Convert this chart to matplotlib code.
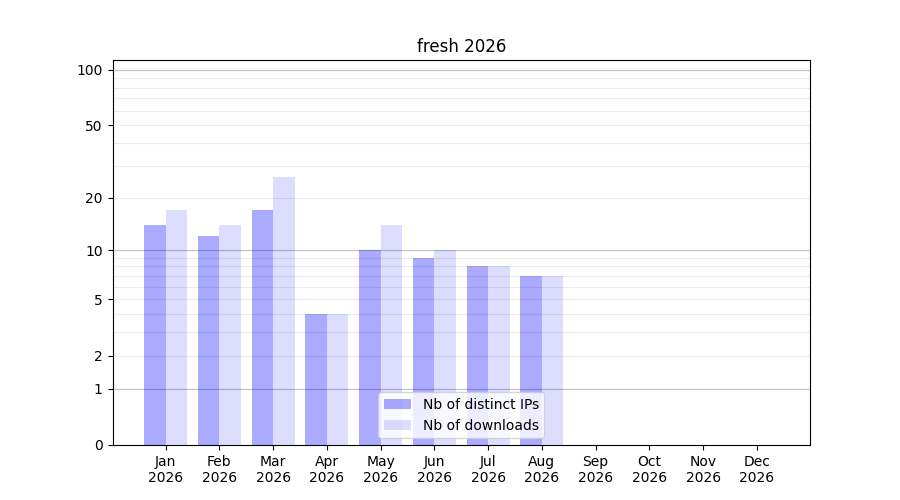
import numpy as np
import matplotlib
matplotlib.use("Agg")
import matplotlib.pyplot as plt

months = ["Jan", "Feb", "Mar", "Apr", "May", "Jun", "Jul", "Aug", "Sep", "Oct", "Nov", "Dec"]
year = "2026"
distinct_ips = [14, 12, 17, 4, 10, 9, 8, 7, 0, 0, 0, 0]
downloads = [17, 14, 26, 4, 14, 10, 8, 7, 0, 0, 0, 0]
ytick_values = [0, 1, 2, 5, 10, 20, 50, 100]
major_grid = [1, 10, 100]
minor_grid = [2, 3, 4, 5, 6, 7, 8, 9, 20, 30, 40, 50, 60, 70, 80, 90]


def fwd(v):
    v = np.asarray(v, dtype=float)
    return np.log10(1 + np.clip(v, -0.999999, None))


def inv(v):
    return 10 ** np.asarray(v, dtype=float) - 1


fig, ax = plt.subplots(figsize=(9, 5), dpi=100)
x = np.arange(len(months))
w = 0.4
ax.set_yscale("function", functions=(fwd, inv))

for g in minor_grid:
    ax.axhline(g, color="#ebebeb", lw=0.8, zorder=0)
for g in major_grid:
    ax.axhline(g, color="#c4c4c4", lw=0.9, zorder=0)

ax.bar(x - w / 2, distinct_ips, w, color="blue", alpha=0.333, label="Nb of distinct IPs", zorder=1)
ax.bar(x + w / 2, downloads, w, color="blue", alpha=0.133, label="Nb of downloads", zorder=1)

ax.set_xticks(x)
ax.set_xticklabels([f"{m}\n{year}" for m in months])
ax.set_yticks(ytick_values)
ax.set_yticklabels([str(v) for v in ytick_values])
ax.yaxis.set_minor_locator(matplotlib.ticker.NullLocator())
ax.set_ylim(0, 113)
ax.set_title("fresh 2026")
ax.legend(loc="lower center")

fig.savefig("out.png")
